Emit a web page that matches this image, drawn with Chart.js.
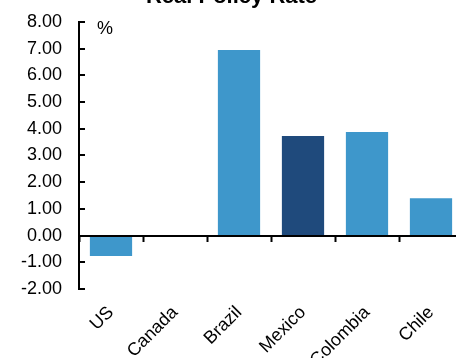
<!DOCTYPE html>
<html>
<head>
<meta charset="utf-8">
<script src="https://cdn.jsdelivr.net/npm/chart.js@4.4.0/dist/chart.umd.min.js"></script>
<style>
  html, body { margin: 0; padding: 0; background: #fff; overflow: hidden; width: 456px; height: 358px; }
  #wrap { position: absolute; left: 0; top: -16px; width: 463px; height: 374px; }
</style>
</head>
<body>
<div id="wrap"><canvas id="c"></canvas></div>
<script>
// Real policy rates, in percent
const countries = ['US', 'Canada', 'Brazil', 'Mexico', 'Colombia', 'Chile'];
const realRates = [-0.76, 0, 6.95, 3.73, 3.88, 1.40];
const barColors = ['#3E97CB', '#3E97CB', '#3E97CB', '#1F4A7C', '#3E97CB', '#3E97CB'];
const yMin = -2, yMax = 8, yStep = 1;
const unitLabel = '%';
const chartTitle = 'Real Policy Rate';

const FONT = '"Liberation Sans", Arial, sans-serif';

// Inward tick marks on the value axis and the unit label in the corner
const axisDecor = {
  id: 'axisDecor',
  afterDatasetsDraw(chart) {
    const { ctx, chartArea, scales: { y } } = chart;
    ctx.save();
    ctx.strokeStyle = '#000';
    ctx.lineWidth = 2;
    y.ticks.forEach(t => {
      const py = Math.round(y.getPixelForValue(t.value));
      ctx.beginPath();
      ctx.moveTo(chartArea.left, py);
      ctx.lineTo(chartArea.left + 6, py);
      ctx.stroke();
    });
    ctx.fillStyle = '#000';
    ctx.font = '18px ' + FONT;
    ctx.textAlign = 'left';
    ctx.textBaseline = 'alphabetic';
    ctx.fillText(unitLabel, chartArea.left + 18, y.getPixelForValue(yMax) + 12);
    ctx.restore();
  }
};

new Chart(document.getElementById('c'), {
  type: 'bar',
  data: {
    labels: countries,
    datasets: [{
      data: realRates,
      backgroundColor: barColors,
      borderWidth: 0,
      barPercentage: 0.66,
      categoryPercentage: 1.0,
      xAxisID: 'x',
      yAxisID: 'y'
    }]
  },
  options: {
    responsive: true,
    maintainAspectRatio: false,
    animation: false,
    devicePixelRatio: 1,
    layout: { padding: { left: 0, right: 0, top: 0, bottom: 0 } },
    plugins: {
      legend: { display: false },
      tooltip: { enabled: false },
      title: {
        display: true,
        text: chartTitle,
        color: '#000',
        font: { family: FONT, size: 22, weight: 'bold' },
        padding: { top: 0, bottom: 11.5 }
      }
    },
    scales: {
      x: {
        type: 'category',
        position: 'bottom',
        offset: true,
        grid: { display: false },
        border: { display: false },
        ticks: {
          color: '#000',
          font: { family: FONT, size: 18 },
          minRotation: 45,
          maxRotation: 45,
          autoSkip: false,
          padding: 5
        },
        afterFit(scale) { scale.height = 69; }
      },
      x0: {
        type: 'category',
        position: { y: 0 },
        offset: true,
        grid: {
          display: true,
          drawOnChartArea: false,
          drawTicks: true,
          tickLength: 5,
          tickWidth: 2,
          tickColor: '#000',
          offset: true,
          z: 1
        },
        border: { display: true, color: '#000', width: 2, z: 1 },
        ticks: { display: false }
      },
      y: {
        min: yMin,
        max: yMax,
        grid: { display: false, drawTicks: false },
        border: { display: true, color: '#000', width: 2 },
        ticks: {
          stepSize: yStep,
          color: '#000',
          font: { family: FONT, size: 18 },
          padding: 17,
          callback: v => Number(v).toFixed(2)
        },
        afterFit(scale) { scale.width = 79; }
      }
    }
  },
  plugins: [axisDecor]
});
</script>
</body>
</html>
